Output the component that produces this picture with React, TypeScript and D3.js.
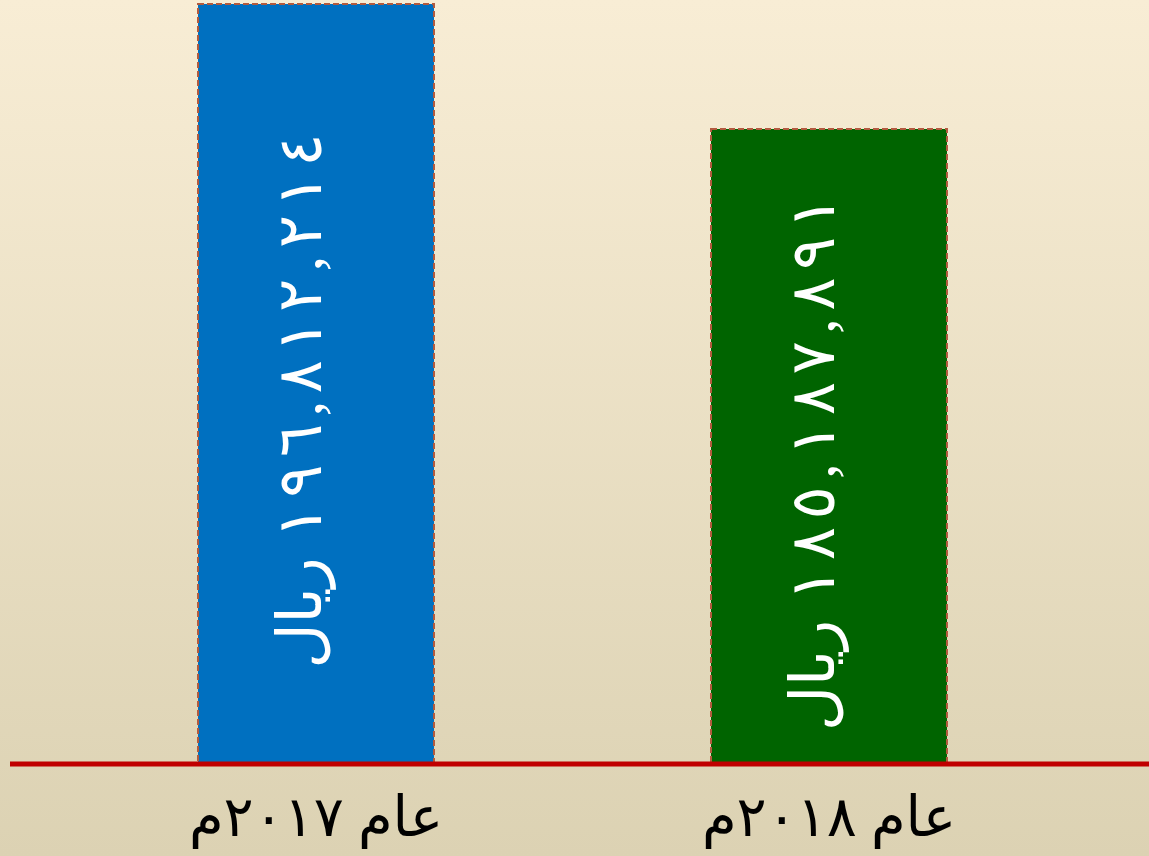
import React from "react";
import * as d3 from "d3";

const years = ["عام ٢٠١٧م", "عام ٢٠١٨م"];
const amounts = [196812214, 185187891];
const amountLabels = ["١٩٦,٨١٢,٢١٤", "١٨٥,١٨٧,٨٩١"];
const currency = "ريال";
const barColors = ["#0070c0", "#006400"];

const width = 1149;
const height = 856;
const baseY = 763;

export default function App() {
  const x = d3
    .scaleBand<string>()
    .domain(years)
    .range([0, 1145])
    .paddingInner(0.54)
    .paddingOuter(0.386);

  // the axis doesn't start at zero in the original
  const y = d3.scaleLinear().domain([126230000, 196812214]).range([baseY, 4]);

  const bars = years.map((yr, i) => ({
    yr,
    v: amounts[i],
    label: amountLabels[i],
    color: barColors[i],
  }));

  return (
    <svg
      width={width}
      height={height}
      style={{ position: "fixed", left: 0, top: 0 }}
      fontFamily="'Times New Roman', 'Liberation Serif', 'DejaVu Sans', serif"
    >
      <defs>
        <linearGradient id="bg" x1="0" y1="0" x2="0" y2="1">
          <stop offset="0" stopColor="#f8edd5" />
          <stop offset="1" stopColor="#dcd2b3" />
        </linearGradient>
      </defs>
      <rect width={width} height={height} fill="url(#bg)" />

      {bars.map((d) => {
        const bx = x(d.yr)!;
        const by = y(d.v);
        const cx = bx + x.bandwidth() / 2;
        const cy = (by + baseY) / 2 + 17;
        return (
          <g key={d.yr}>
            <rect
              x={bx}
              y={by}
              width={x.bandwidth()}
              height={baseY - by}
              fill={d.color}
              stroke="#b25a3e"
              strokeWidth={2}
              strokeDasharray="6 3"
            />
            {/* rotated label, reads bottom to top: currency then the number */}
            <g
              transform={`translate(${cx},${cy}) rotate(-90)`}
              fill="#fff"
              fontSize={62}
            >
              <text x={-268} y={-16} textAnchor="start" dominantBaseline="central">
                {currency}
              </text>
              <text
                x={-138}
                y={-16}
                textAnchor="start"
                dominantBaseline="central"
                textLength={405}
                lengthAdjust="spacing"
              >
                {d.label}
              </text>
            </g>
            <text
              x={cx}
              y={836}
              textAnchor="middle"
              direction="rtl"
              fill="#000"
              fontSize={56}
            >
              {d.yr}
            </text>
          </g>
        );
      })}

      <line x1={10} x2={width} y1={764} y2={764} stroke="#c00000" strokeWidth={5} />
    </svg>
  );
}
